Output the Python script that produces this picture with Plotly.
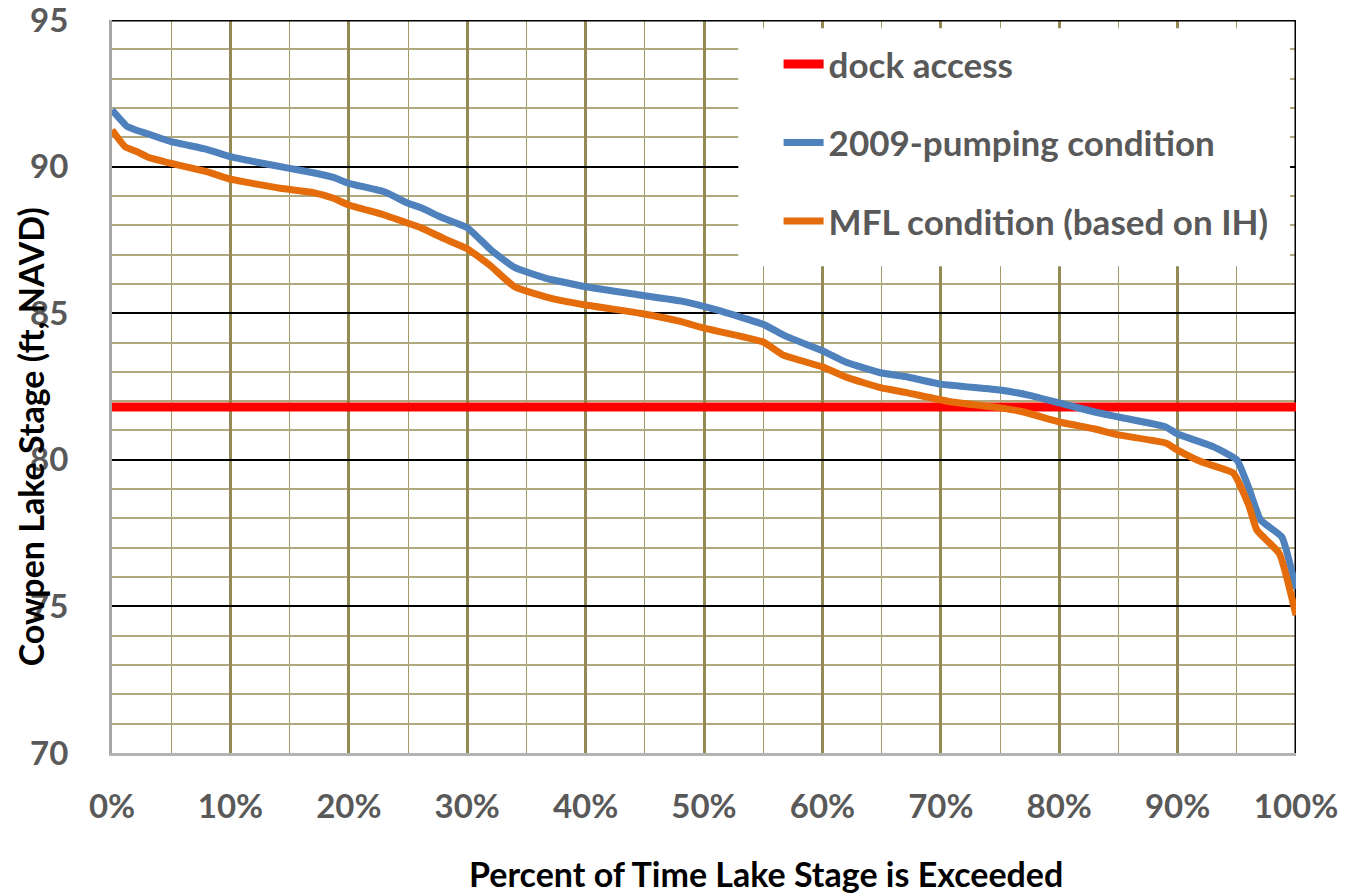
import plotly.graph_objects as go

# ---- data ----
dock_x = [0, 100]
dock_y = [81.8, 81.8]

pump_x = [0, 1.3, 2, 3, 5, 8, 10, 12, 15, 17, 18.7, 20, 23, 25, 26, 28, 30, 32, 34, 36.6,
          40, 44.6, 48, 51, 55, 57, 60, 62, 65, 67, 70, 75, 77.5, 80, 83, 85, 89, 90, 93,
          95, 96, 97, 98.8, 100]
pump_y = [91.93, 91.36, 91.25, 91.12, 90.85, 90.59, 90.34, 90.17, 89.94, 89.79, 89.63, 89.43,
          89.14, 88.75, 88.61, 88.24, 87.92, 87.16, 86.56, 86.2, 85.9, 85.62, 85.42, 85.12,
          84.62, 84.2, 83.72, 83.33, 82.96, 82.84, 82.58, 82.38, 82.2, 81.94, 81.63, 81.46,
          81.12, 80.88, 80.45, 80.0, 79.05, 77.95, 77.37, 75.6]

mfl_x = [0, 1.1, 2.1, 3, 5, 8, 10, 14.2, 17, 18.7, 20, 23, 25, 26, 28, 30, 31.9, 34, 36.6,
         40, 44.6, 48, 50, 55, 56.7, 60, 62, 65, 67, 70.8, 75, 77, 80, 83, 85, 89, 90, 92,
         94.7, 96, 96.7, 98.6, 100]
mfl_y = [91.25, 90.68, 90.51, 90.33, 90.11, 89.83, 89.57, 89.26, 89.11, 88.92, 88.69, 88.35,
         88.07, 87.93, 87.55, 87.2, 86.64, 85.9, 85.56, 85.28, 85.0, 84.72, 84.49, 84.02,
         83.57, 83.17, 82.82, 82.45, 82.3, 81.98, 81.77, 81.63, 81.29, 81.05, 80.85, 80.57,
         80.33, 79.93, 79.55, 78.46, 77.6, 76.8, 74.7]

x_ticks = [0, 10, 20, 30, 40, 50, 60, 70, 80, 90, 100]
x_labels = ["0%", "10%", "20%", "30%", "40%", "50%", "60%", "70%", "80%", "90%", "100%"]
y_ticks = [70, 75, 80, 85, 90, 95]
y_labels = ["70", "75", "80", "85", "90", "95"]

FONT = "Lato"
GRAY = "#595959"

fig = go.Figure()
fig.add_trace(go.Scatter(x=dock_x, y=dock_y, mode="lines", name="dock access",
                         legendgroup="a", line=dict(color="#ff0000", width=9)))
fig.add_trace(go.Scatter(x=pump_x, y=pump_y, mode="lines", name="2009-pumping condition",
                         legendgroup="b", line=dict(color="#4f81bd", width=7, shape="spline", smoothing=0.4)))
fig.add_trace(go.Scatter(x=mfl_x, y=mfl_y, mode="lines", name="MFL condition (based on IH)",
                         legendgroup="c", line=dict(color="#e46c0a", width=7, shape="spline", smoothing=0.4)))

fig.update_layout(
    width=1346, height=895,
    margin=dict(l=112, r=50, t=20, b=142, autoexpand=False),
    paper_bgcolor="white", plot_bgcolor="white",
    font=dict(family=FONT),
    showlegend=True,
    legend=dict(x=0.563, y=0.98, xanchor="left", yanchor="top",
                bgcolor="rgba(0,0,0,0)", borderwidth=0,
                font=dict(family=FONT, size=35, color=GRAY, weight="bold"),
                tracegroupgap=30, itemwidth=40),
)

fig.update_xaxes(
    range=[0, 100], tickmode="array", tickvals=x_ticks, ticktext=x_labels,
    tickfont=dict(family=FONT, size=33, color=GRAY, weight="bold"),
    showgrid=True, gridcolor="#948a54", gridwidth=2.5,
    minor=dict(dtick=5, showgrid=True, gridcolor="#a39a6a", gridwidth=1.3),
    showline=True, linecolor="#b3b3b3", linewidth=3,
    ticks="", ticklabelstandoff=22, zeroline=False, automargin=False,
)
fig.update_yaxes(
    range=[70, 95], tickmode="array", tickvals=y_ticks, ticktext=y_labels,
    tickfont=dict(family=FONT, size=33, color=GRAY, weight="bold"),
    ticklabeloverflow="allow",
    showgrid=True, gridcolor="black", gridwidth=2,
    minor=dict(dtick=1, showgrid=True, gridcolor="#b0a87f", gridwidth=2),
    showline=True, linecolor="#a6a6a6", linewidth=3,
    ticks="", ticklabelstandoff=34, zeroline=False, automargin=False,
)

# axis titles (positioned as in the reference)
fig.add_annotation(text="Cowpen Lake Stage (ft, NAVD)", textangle=-90,
                   xref="paper", yref="paper", x=-0.0693, y=0.432,
                   xanchor="center", yanchor="middle", showarrow=False,
                   font=dict(family=FONT, size=34, color="black", weight="bold"))
fig.add_annotation(text="Percent of Time Lake Stage is Exceeded",
                   xref="paper", yref="paper", x=0.552, y=-0.164,
                   xanchor="center", yanchor="middle", showarrow=False,
                   font=dict(family=FONT, size=34, color="black", weight="bold"))

# white legend panel (above gridlines, below traces)
fig.add_shape(type="rect", xref="x", yref="y", x0=52.9, x1=99.5, y0=86.6, y1=94.72,
              fillcolor="white", line=dict(width=0), layer="between")
# top and right borders
fig.add_shape(type="line", xref="x", yref="y", x0=0, x1=100, y0=95, y1=95,
              line=dict(color="black", width=3), layer="between")
fig.add_shape(type="line", xref="x", yref="y", x0=100, x1=100, y0=70, y1=95,
              line=dict(color="black", width=3), layer="between")

fig.write_html("out.html")
